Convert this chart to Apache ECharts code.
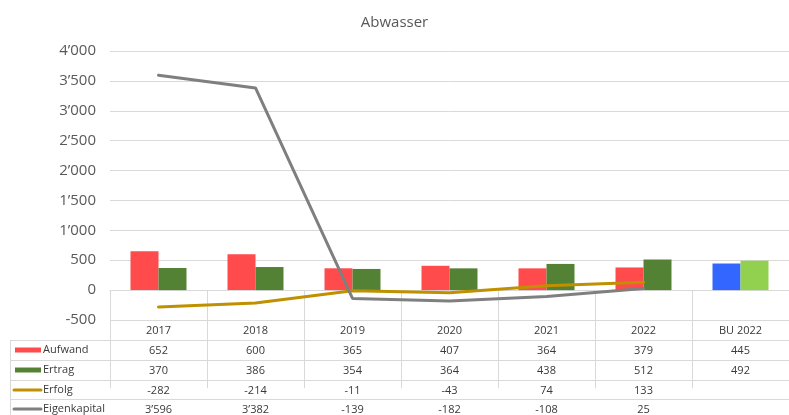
<!DOCTYPE html>
<html>
<head>
<meta charset="utf-8">
<script src="https://cdn.jsdelivr.net/npm/echarts@6/dist/echarts.min.js"></script>
<style>html,body{margin:0;padding:0;background:#fff}#c{width:789px;height:415px}</style>
</head>
<body>
<div id="c"></div>
<script>
const title = 'Abwasser';
const categories = ['2017', '2018', '2019', '2020', '2021', '2022', 'BU 2022'];
const aufwand = [652, 600, 365, 407, 364, 379, 445];
const ertrag = [370, 386, 354, 364, 438, 512, 492];
const erfolg = [-282, -214, -11, -43, 74, 133, null];
const eigenkapital = [3596, 3382, -139, -182, -108, 25, null];
const seriesNames = ['Aufwand', 'Ertrag', 'Erfolg', 'Eigenkapital'];
const seriesKinds = ['bar', 'bar', 'line', 'line'];
const yMin = -500, yMax = 4000, yStep = 500;
const budgetCategory = 'BU 2022';

const fmt = v => {
  if (v === null || v === undefined) return '';
  const s = String(Math.abs(v)).replace(/\B(?=(\d{3})+(?!\d))/g, '\u2019');
  return (v < 0 ? '-' : '') + s;
};

const FONT = 'Open Sans';
const GRID_LINE = '#d9d9d9';
const TABLE_TEXT = '#3a3a3a';
const seriesColors = ['#FF4B4B', '#548235', '#BF9000', '#7F7F7F'];
const budgetColors = ['#3366FF', '#92D050'];
const budgetIdx = categories.indexOf(budgetCategory);
const barData = (arr, budgetColor) => arr.map((v, i) => i === budgetIdx ? { value: v, itemStyle: { color: budgetColor } } : v);

const tableRows = [aufwand, ertrag, erfolg, eigenkapital];
const rowOffsets = [20, 40, 60, 79];
const rowHeight = 20;
const gridLeft = 110, gridTop = 51, gridBottom = 95, gridWidth = 686;
const tableTop = 415 - gridBottom;

const baseCat = {
  type: 'category', data: categories, position: 'bottom', gridIndex: 0,
  axisLine: { show: true, lineStyle: { color: GRID_LINE, width: 1 } },
  axisTick: { show: false },
  axisLabel: { interval: 0, margin: 5, fontFamily: FONT, fontSize: 11, color: TABLE_TEXT },
  splitLine: { show: false }
};

const xAxes = [Object.assign({}, baseCat, {
  axisTick: { show: true, alignWithLabel: false, interval: 0, length: 98, lineStyle: { color: GRID_LINE } }
})];
tableRows.forEach((row, k) => {
  xAxes.push(Object.assign({}, baseCat, {
    offset: rowOffsets[k],
    axisLabel: Object.assign({}, baseCat.axisLabel, { formatter: (val, idx) => fmt(row[idx]) })
  }));
});

// table frame for the legend column + legend keys
const graphics = [];
graphics.push({ type: 'line', silent: true, shape: { x1: 10.5, y1: tableTop + rowOffsets[0], x2: 10.5, y2: 420 }, style: { stroke: GRID_LINE, lineWidth: 1 } });
rowOffsets.forEach(o => {
  graphics.push({ type: 'line', silent: true, shape: { x1: 10, y1: tableTop + o + 0.5, x2: gridLeft, y2: tableTop + o + 0.5 }, style: { stroke: GRID_LINE, lineWidth: 1 } });
});
seriesNames.forEach((name, k) => {
  const cy = tableTop + rowOffsets[k] + rowHeight / 2;
  if (seriesKinds[k] === 'bar') {
    graphics.push({ type: 'rect', silent: true, shape: { x: 15, y: cy - 2.5, width: 26, height: 5 }, style: { fill: seriesColors[k] } });
  } else {
    graphics.push({ type: 'line', silent: true, shape: { x1: 14, y1: cy, x2: 41, y2: cy }, style: { stroke: seriesColors[k], lineWidth: 3, lineCap: 'round' } });
  }
  graphics.push({ type: 'text', silent: true, x: 43, y: cy, style: { text: name, fontFamily: FONT, fontSize: 11, fill: TABLE_TEXT, verticalAlign: 'middle', align: 'left' } });
});

const chart = echarts.init(document.getElementById('c'), null, { renderer: 'canvas' });
chart.setOption({
  animation: false,
  title: { text: title, left: 'center', top: 10, textStyle: { fontFamily: FONT, fontSize: 15, fontWeight: 'normal', color: '#595959' } },
  grid: { left: gridLeft, top: gridTop, bottom: gridBottom, width: gridWidth, containLabel: false },
  xAxis: xAxes,
  yAxis: {
    type: 'value', min: yMin, max: yMax, interval: yStep,
    axisLine: { show: false }, axisTick: { show: false },
    axisLabel: { margin: 14, fontFamily: FONT, fontSize: 15, color: '#595959', formatter: v => fmt(v) },
    splitLine: { lineStyle: { color: GRID_LINE, width: 1 } }
  },
  graphic: graphics,
  series: [
    { name: seriesNames[0], type: 'bar', data: barData(aufwand, budgetColors[0]), barWidth: 28, barGap: '0%', itemStyle: { color: seriesColors[0] } },
    { name: seriesNames[1], type: 'bar', data: barData(ertrag, budgetColors[1]), barWidth: 28, barGap: '0%', itemStyle: { color: seriesColors[1] } },
    { name: seriesNames[2], type: 'line', data: erfolg, symbol: 'none', z: 5, lineStyle: { color: seriesColors[2], width: 3, cap: 'round' }, itemStyle: { color: seriesColors[2] } },
    { name: seriesNames[3], type: 'line', data: eigenkapital, symbol: 'none', z: 6, lineStyle: { color: seriesColors[3], width: 3, cap: 'round' }, itemStyle: { color: seriesColors[3] } }
  ]
});
</script>
</body>
</html>
